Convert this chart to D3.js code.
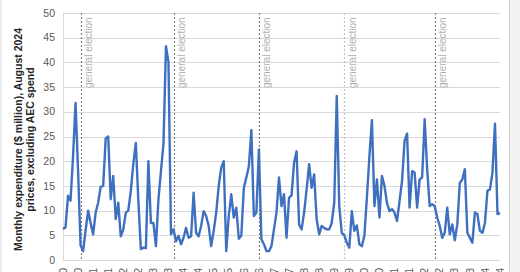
<!DOCTYPE html>
<html>
<head>
<meta charset="utf-8">
<script src="https://cdn.jsdelivr.net/npm/d3@7"></script>
<style>
body { margin: 0; background: #fff; }
svg { display: block; font-family: "Liberation Sans", Arial, sans-serif; }
</style>
</head>
<body>
<svg id="chart"></svg>
<script>
// monthly spend, $ million (Aug 2024 prices), Jan 2010 - Jul 2024
var spend = [
  6.3, 6.6, 13, 12, 21, 31.8, 18, 3, 1.8, 6, 10, 7.5, 5.2, 9.6, 11.6, 14.8, 15, 24.6, 25, 12.3, 17, 8.3, 11.6, 4.8, 6.2, 9.6, 10,
  14, 19.5, 23.7, 12, 2.2, 2.5, 2.4, 20, 7.5, 7.5, 2.8, 12.3, 18, 23.5, 43.3, 40, 5.2, 6.2, 3.8, 4.9, 3.2, 4.5, 6.5, 4.5,
  4.8, 13.6, 5.5, 4.8, 6.9, 9.9, 8.9, 6.9, 2.8, 5.9, 9.6, 15, 18.7, 20, 1.8, 8.9, 13.3, 8.6, 10.6, 4.3, 4.9, 14.6, 16.7, 19, 26.3, 8.9, 9.6,
  22.4, 4.2, 3.2, 1.8, 1.8, 2.8, 6.2, 9.6, 16.7, 10.9, 13.3, 4.5, 12.6, 13.1, 19.7, 22, 7.2, 6.2, 9.6, 14.3, 19.4, 14.6, 17.3, 8.2,
  5.2, 6.9, 6.5, 6.2, 6.2, 7.5, 11.6, 33.2, 10.9, 5.5, 5, 3.5, 2.5, 9.9, 5.9, 7, 3.2, 2.8, 4.9, 12.6, 21, 28.3, 10.9, 16.3, 8.6, 17, 15, 11.5,
  9.9, 10.3, 9.6, 7.9, 11.9, 16, 24.1, 25.6, 10.6, 18, 17.7, 10.6, 16.3, 16.7, 28.5, 18.4, 10.9, 11.3, 10.9, 8.6, 6.9, 4.5, 5.5,
  10.6, 5.2, 7.2, 4, 7.2, 15.6, 16.3, 18.4, 5.5, 4.5, 3.5, 9.6, 9.3, 5.9, 5.5, 7.5, 14, 14.3, 17.7, 27.6, 9.3, 9.5
];
var tickLabels = ["Jan-10","Jul-10","Jan-11","Jul-11","Jan-12","Jul-12","Jan-13","Jul-13","Jan-14","Jul-14",
  "Jan-15","Jul-15","Jan-16","Jul-16","Jan-17","Jul-17","Jan-18","Jul-18","Jan-19","Jul-19",
  "Jan-20","Jul-20","Jan-21","Jul-21","Jan-22","Jul-22","Jan-23","Jul-23","Jan-24","Jul-24"];
var elections = ["Aug-10","Sep-13","Jul-16","May-19","May-22"];
var yTicks = [0,5,10,15,20,25,30,35,40,45,50];
var yTitle = ["Monthly expenditure ($ million),  August 2024", "prices, excluding AEC spend"];
var electionText = "general election";

var fmt = d3.timeFormat("%b-%y");
var months = d3.timeMonth.range(new Date(2010,0,1), new Date(2024,7,1)).map(fmt);

var W = 520, H = 272;
var svg = d3.select("#chart").attr("width", W).attr("height", H);

// frame edges
svg.append("rect").attr("x",0).attr("y",0).attr("width",2).attr("height",H).attr("fill","#ececec");
svg.append("rect").attr("x",509).attr("y",0).attr("width",11).attr("height",H).attr("fill","#f2f2f2");
svg.append("line").attr("x1",509.5).attr("x2",509.5).attr("y1",0).attr("y2",H)
   .attr("stroke","#d4d4d4");

var x = d3.scalePoint().domain(months).range([63, 500]);
var y = d3.scaleLinear().domain([0, 50]).range([260, 13]);

// gridlines
svg.append("g").selectAll("line")
   .data(yTicks)
   .enter().append("line")
   .attr("x1", 63).attr("x2", 500)
   .attr("y1", function(d){ return Math.round(y(d)) + 0.5; })
   .attr("y2", function(d){ return Math.round(y(d)) + 0.5; })
   .attr("stroke", "#d9d9d9");

svg.append("line")
   .attr("x1", 63.5).attr("x2", 63.5).attr("y1", y(50)).attr("y2", y(0))
   .attr("stroke", "#d9d9d9");

// y tick labels
svg.append("g").selectAll("text")
   .data(yTicks)
   .enter().append("text")
   .attr("x", 55)
   .attr("y", function(d){ return y(d); })
   .attr("dy", "0.35em")
   .attr("text-anchor", "end")
   .attr("font-size", "10.5px")
   .attr("fill", "#595959")
   .text(function(d){ return d; });

// x tick labels (rotated, mostly below the bottom edge as in the reference)
svg.append("g").selectAll("text")
   .data(tickLabels)
   .enter().append("text")
   .attr("transform", function(d){ return "translate(" + x(d) + ",268) rotate(-90)"; })
   .attr("dy", "0.35em")
   .attr("text-anchor", "end")
   .attr("font-size", "10.5px")
   .attr("fill", "#595959")
   .text(function(d){ return d; });

// y title
svg.append("g").selectAll("text")
   .data(yTitle)
   .enter().append("text")
   .attr("transform", function(d, i){ return "translate(" + (21.5 + i * 12) + ",139.5) rotate(-90)"; })
   .attr("text-anchor", "middle")
   .attr("font-size", "10.5px")
   .attr("font-weight", "bold")
   .attr("fill", "#262626")
   .text(function(d){ return d; });

// election markers
var el = svg.append("g").selectAll("g")
   .data(elections)
   .enter().append("g");

el.append("line")
  .attr("x1", function(d){ return Math.round(x(d)) + 0.5; })
  .attr("x2", function(d){ return Math.round(x(d)) + 0.5; })
  .attr("y1", y(50)).attr("y2", y(0))
  .attr("stroke", function(d){ return d == "May-19" ? "#c4c4c4" : "#808080"; })
  .attr("stroke-width", 1.2)
  .attr("stroke-dasharray", "2,2");

el.append("text")
  .attr("transform", function(d){ return "translate(" + (x(d) + 11.5) + ",88) rotate(-90)"; })
  .attr("font-size", "10px")
  .attr("fill", "#b0b0b0")
  .text(electionText);

// spend line
var line = d3.line()
   .x(function(d, i){ return x(months[i]); })
   .y(function(d){ return y(d); });

svg.append("path")
   .datum(spend)
   .attr("d", line)
   .attr("fill", "none")
   .attr("stroke", "#3f70bf")
   .attr("stroke-width", 2.4)
   .attr("stroke-linejoin", "round");
</script>
</body>
</html>
